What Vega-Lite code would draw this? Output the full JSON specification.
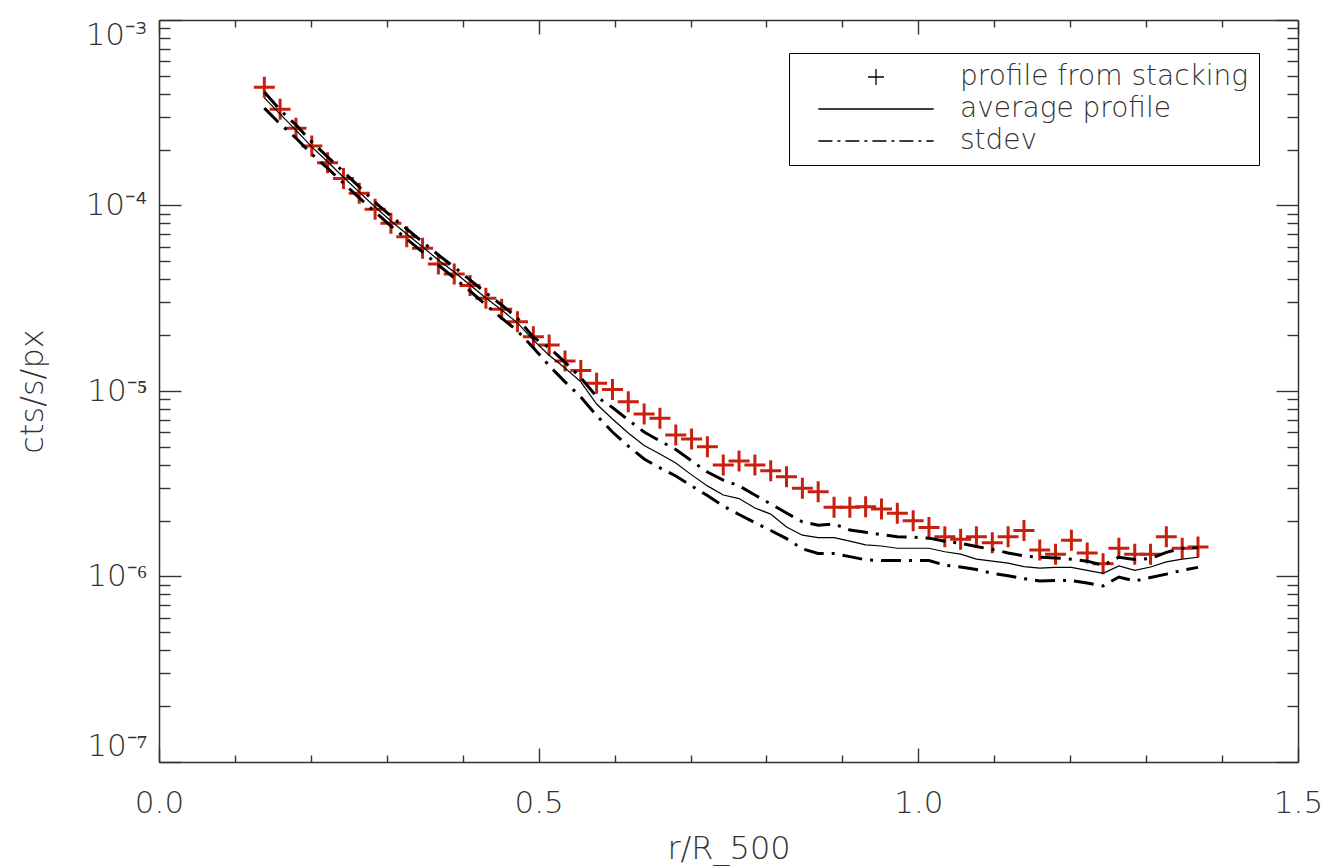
{
  "$schema": "https://vega.github.io/schema/vega-lite/v6.json",
  "width": 1139,
  "height": 742,
  "autosize": {"type": "none"},
  "padding": {"left": 159, "top": 20, "right": 31, "bottom": 104},
  "background": "white",
  "data": {"values": [
    {"r":0.1387,"stack":4.34e-4,"avg":3.80e-4,"up":4.09e-4,"lo":3.35e-4},
    {"r":0.1595,"stack":3.30e-4,"avg":3.11e-4,"up":3.27e-4,"lo":2.75e-4},
    {"r":0.1804,"stack":2.61e-4,"avg":2.55e-4,"up":2.72e-4,"lo":2.31e-4},
    {"r":0.2012,"stack":2.09e-4,"avg":2.07e-4,"up":2.20e-4,"lo":1.89e-4},
    {"r":0.2220,"stack":1.70e-4,"avg":1.72e-4,"up":1.83e-4,"lo":1.59e-4},
    {"r":0.2429,"stack":1.40e-4,"avg":1.42e-4,"up":1.52e-4,"lo":1.32e-4},
    {"r":0.2637,"stack":1.163e-4,"avg":1.18e-4,"up":1.26e-4,"lo":1.10e-4},
    {"r":0.2846,"stack":9.54e-5,"avg":9.81e-5,"up":1.04e-4,"lo":9.23e-5},
    {"r":0.3054,"stack":8.02e-5,"avg":8.25e-5,"up":8.78e-5,"lo":7.75e-5},
    {"r":0.3263,"stack":6.79e-5,"avg":7.02e-5,"up":7.47e-5,"lo":6.60e-5},
    {"r":0.3471,"stack":5.88e-5,"avg":5.97e-5,"up":6.36e-5,"lo":5.61e-5},
    {"r":0.3679,"stack":4.84e-5,"avg":5.09e-5,"up":5.41e-5,"lo":4.78e-5},
    {"r":0.3888,"stack":4.27e-5,"avg":4.38e-5,"up":4.66e-5,"lo":4.07e-5},
    {"r":0.4096,"stack":3.70e-5,"avg":3.73e-5,"up":3.97e-5,"lo":3.46e-5},
    {"r":0.4305,"stack":3.16e-5,"avg":3.17e-5,"up":3.38e-5,"lo":2.91e-5},
    {"r":0.4513,"stack":2.76e-5,"avg":2.73e-5,"up":2.91e-5,"lo":2.47e-5},
    {"r":0.4721,"stack":2.36e-5,"avg":2.33e-5,"up":2.47e-5,"lo":2.11e-5},
    {"r":0.4930,"stack":1.96e-5,"avg":1.88e-5,"up":1.95e-5,"lo":1.71e-5},
    {"r":0.5138,"stack":1.77e-5,"avg":1.56e-5,"up":1.71e-5,"lo":1.37e-5},
    {"r":0.5347,"stack":1.45e-5,"avg":1.33e-5,"up":1.43e-5,"lo":1.12e-5},
    {"r":0.5555,"stack":1.29e-5,"avg":1.12e-5,"up":1.18e-5,"lo":9.28e-6},
    {"r":0.5763,"stack":1.10e-5,"avg":8.51e-6,"up":9.32e-6,"lo":7.38e-6},
    {"r":0.5972,"stack":1.02e-5,"avg":7.07e-6,"up":8.15e-6,"lo":6.01e-6},
    {"r":0.6180,"stack":8.76e-6,"avg":5.94e-6,"up":6.98e-6,"lo":5.05e-6},
    {"r":0.6389,"stack":7.52e-6,"avg":5.09e-6,"up":6.01e-6,"lo":4.30e-6},
    {"r":0.6597,"stack":7.13e-6,"avg":4.58e-6,"up":5.38e-6,"lo":3.85e-6},
    {"r":0.6806,"stack":5.79e-6,"avg":4.09e-6,"up":4.84e-6,"lo":3.48e-6},
    {"r":0.7014,"stack":5.51e-6,"avg":3.53e-6,"up":4.20e-6,"lo":3.08e-6},
    {"r":0.7222,"stack":5.01e-6,"avg":3.08e-6,"up":3.66e-6,"lo":2.73e-6},
    {"r":0.7431,"stack":3.99e-6,"avg":2.75e-6,"up":3.31e-6,"lo":2.40e-6},
    {"r":0.7639,"stack":4.20e-6,"avg":2.63e-6,"up":3.08e-6,"lo":2.16e-6},
    {"r":0.7848,"stack":3.99e-6,"avg":2.34e-6,"up":2.75e-6,"lo":1.95e-6},
    {"r":0.8056,"stack":3.72e-6,"avg":2.17e-6,"up":2.46e-6,"lo":1.77e-6},
    {"r":0.8264,"stack":3.45e-6,"avg":1.85e-6,"up":2.20e-6,"lo":1.60e-6},
    {"r":0.8473,"stack":2.99e-6,"avg":1.67e-6,"up":1.97e-6,"lo":1.41e-6},
    {"r":0.8681,"stack":2.86e-6,"avg":1.62e-6,"up":1.89e-6,"lo":1.33e-6},
    {"r":0.8890,"stack":2.36e-6,"avg":1.62e-6,"up":1.92e-6,"lo":1.33e-6},
    {"r":0.9098,"stack":2.36e-6,"avg":1.55e-6,"up":1.78e-6,"lo":1.28e-6},
    {"r":0.9306,"stack":2.38e-6,"avg":1.48e-6,"up":1.73e-6,"lo":1.23e-6},
    {"r":0.9515,"stack":2.31e-6,"avg":1.46e-6,"up":1.68e-6,"lo":1.22e-6},
    {"r":0.9723,"stack":2.19e-6,"avg":1.42e-6,"up":1.64e-6,"lo":1.22e-6},
    {"r":0.9932,"stack":2.00e-6,"avg":1.42e-6,"up":1.63e-6,"lo":1.22e-6},
    {"r":1.0140,"stack":1.84e-6,"avg":1.42e-6,"up":1.61e-6,"lo":1.22e-6},
    {"r":1.0349,"stack":1.64e-6,"avg":1.36e-6,"up":1.55e-6,"lo":1.15e-6},
    {"r":1.0557,"stack":1.59e-6,"avg":1.32e-6,"up":1.51e-6,"lo":1.125e-6},
    {"r":1.0765,"stack":1.64e-6,"avg":1.24e-6,"up":1.45e-6,"lo":1.09e-6},
    {"r":1.0974,"stack":1.52e-6,"avg":1.21e-6,"up":1.40e-6,"lo":1.04e-6},
    {"r":1.1182,"stack":1.64e-6,"avg":1.18e-6,"up":1.34e-6,"lo":1.01e-6},
    {"r":1.1391,"stack":1.77e-6,"avg":1.13e-6,"up":1.29e-6,"lo":9.74e-7},
    {"r":1.1599,"stack":1.39e-6,"avg":1.11e-6,"up":1.27e-6,"lo":9.46e-7},
    {"r":1.1807,"stack":1.32e-6,"avg":1.12e-6,"up":1.26e-6,"lo":9.51e-7},
    {"r":1.2016,"stack":1.57e-6,"avg":1.12e-6,"up":1.24e-6,"lo":9.51e-7},
    {"r":1.2224,"stack":1.34e-6,"avg":1.08e-6,"up":1.21e-6,"lo":9.23e-7},
    {"r":1.2433,"stack":1.17e-6,"avg":1.04e-6,"up":1.15e-6,"lo":8.89e-7},
    {"r":1.2641,"stack":1.42e-6,"avg":1.14e-6,"up":1.27e-6,"lo":9.94e-7},
    {"r":1.2850,"stack":1.32e-6,"avg":1.08e-6,"up":1.235e-6,"lo":9.46e-7},
    {"r":1.3058,"stack":1.32e-6,"avg":1.125e-6,"up":1.25e-6,"lo":9.88e-7},
    {"r":1.3266,"stack":1.64e-6,"avg":1.20e-6,"up":1.35e-6,"lo":1.03e-6},
    {"r":1.3475,"stack":1.42e-6,"avg":1.24e-6,"up":1.42e-6,"lo":1.08e-6},
    {"r":1.3683,"stack":1.44e-6,"avg":1.27e-6,"up":1.43e-6,"lo":1.12e-6}
  ]},
  "layer": [
    {
      "mark": {"type": "point", "filled": false, "color": "#c8200e", "strokeWidth": 3, "size": 441, "opacity": 1},
      "encoding": {
        "x": {"field": "r", "type": "quantitative", "scale": {"domain": [0, 1.5], "nice": false, "zero": false},
          "axis": {"orient": "bottom",
            "values": [0,0.1,0.2,0.3,0.4,0.5,0.6,0.7,0.8,0.9,1.0,1.1,1.2,1.3,1.4,1.5],
            "labelExpr": "abs(datum.value*2-round(datum.value*2))<0.001 ? format(datum.value,'.1f') : ''",
            "tickSize": {"condition": {"test": "abs(datum.value*2-round(datum.value*2))<0.001", "value": -14}, "value": -7},
            "labelPadding": 40, "labelFlush": false, "labelOverlap": false, "labelBound": false, "labelAngle": 0,
            "title": "r/R_500", "titleY": 96, "titleBaseline": "alphabetic", "titleFontSize": 32}},
        "y": {"field": "stack", "type": "quantitative", "scale": {"type": "log", "domain": [1e-7, 1e-3], "nice": false},
          "axis": {"orient": "left",
            "values": [1e-7,2e-7,3e-7,4e-7,5e-7,6e-7,7e-7,8e-7,9e-7,1e-6,2e-6,3e-6,4e-6,5e-6,6e-6,7e-6,8e-6,9e-6,1e-5,2e-5,3e-5,4e-5,5e-5,6e-5,7e-5,8e-5,9e-5,1e-4,2e-4,3e-4,4e-4,5e-4,6e-4,7e-4,8e-4,9e-4,1e-3],
            "labelExpr": "abs(log(datum.value)/LN10-round(log(datum.value)/LN10))<0.001 ? '10⁻' + ['⁰','¹','²','³','⁴','⁵','⁶','⁷','⁸','⁹'][-round(log(datum.value)/LN10)] : ''",
            "tickSize": {"condition": {"test": "abs(log(datum.value)/LN10-round(log(datum.value)/LN10))<0.001", "value": -22}, "value": -11},
            "labelPadding": 34, "labelFlush": true, "labelFlushOffset": 0, "labelOverlap": false, "labelBound": false,
            "title": "cts/s/px", "titleX": -117, "titleY": 371, "titleBaseline": "alphabetic", "titleAngle": 270, "titleFontSize": 32}},
        "shape": {"datum": "profile from stacking", "type": "nominal",
          "scale": {"domain": ["profile from stacking", "average profile", "stdev"],
            "range": ["M-1,0H1M0,-1V1", "M-7.2,0H7.2",
              "M-7.2,0H-5.45M-4.825,0H-4.45M-3.825,0H-2.075M-1.45,0H-1.075M-0.45,0H1.3M1.925,0H2.3M2.925,0H4.675M5.3,0H5.675M6.3,0H7.2"]},
          "legend": {"orient": "none", "legendX": 630, "legendY": 33, "title": null,
            "strokeColor": "black", "padding": 10, "symbolOffset": 63, "labelOffset": 70, "rowPadding": 4,
            "labelFont": "DejaVu Sans", "labelFontSize": 28, "labelFontWeight": 200, "labelColor": "#333", "labelLimit": 500,
            "symbolSize": 256, "symbolStrokeColor": "black", "symbolStrokeWidth": 1.3, "symbolFillColor": "transparent",
            "encode": {"symbols": {"update": {
              "stroke": {"value": "black"}, "strokeWidth": {"value": 1.3}, "fill": {"value": "transparent"},
              "size": {"value": 256}, "opacity": {"value": 1}}}}}}
      }
    },
    {
      "mark": {"type": "line", "color": "black", "strokeWidth": 1.2},
      "encoding": {
        "x": {"field": "r", "type": "quantitative", "scale": {"domain": [0, 1.5], "nice": false, "zero": false}, "axis": null},
        "y": {"field": "avg", "type": "quantitative", "scale": {"type": "log", "domain": [1e-7, 1e-3], "nice": false}, "axis": null}
      }
    },
    {
      "mark": {"type": "line", "color": "black", "strokeWidth": 3, "strokeDash": [20, 8, 3, 8]},
      "encoding": {
        "x": {"field": "r", "type": "quantitative", "scale": {"domain": [0, 1.5], "nice": false, "zero": false}, "axis": null},
        "y": {"field": "up", "type": "quantitative", "scale": {"type": "log", "domain": [1e-7, 1e-3], "nice": false}, "axis": null}
      }
    },
    {
      "mark": {"type": "line", "color": "black", "strokeWidth": 3, "strokeDash": [20, 8, 3, 8]},
      "encoding": {
        "x": {"field": "r", "type": "quantitative", "scale": {"domain": [0, 1.5], "nice": false, "zero": false}, "axis": null},
        "y": {"field": "lo", "type": "quantitative", "scale": {"type": "log", "domain": [1e-7, 1e-3], "nice": false}, "axis": null}
      }
    },
    {
      "mark": {"type": "point", "opacity": 0},
      "encoding": {
        "x": {"field": "r", "type": "quantitative", "scale": {"domain": [0, 1.5], "nice": false, "zero": false},
          "axis": {"orient": "top", "values": [0,0.1,0.2,0.3,0.4,0.5,0.6,0.7,0.8,0.9,1.0,1.1,1.2,1.3,1.4,1.5], "labels": false, "title": null,
            "tickSize": {"condition": {"test": "abs(datum.value*2-round(datum.value*2))<0.001", "value": -14}, "value": -7}}},
        "y": {"field": "stack", "type": "quantitative", "scale": {"type": "log", "domain": [1e-7, 1e-3], "nice": false},
          "axis": {"orient": "right", "labels": false, "title": null,
            "values": [1e-7,2e-7,3e-7,4e-7,5e-7,6e-7,7e-7,8e-7,9e-7,1e-6,2e-6,3e-6,4e-6,5e-6,6e-6,7e-6,8e-6,9e-6,1e-5,2e-5,3e-5,4e-5,5e-5,6e-5,7e-5,8e-5,9e-5,1e-4,2e-4,3e-4,4e-4,5e-4,6e-4,7e-4,8e-4,9e-4,1e-3],
            "tickSize": {"condition": {"test": "abs(log(datum.value)/LN10-round(log(datum.value)/LN10))<0.001", "value": -22}, "value": -11}}}
      }
    }
  ],
  "resolve": {"axis": {"x": "independent", "y": "independent"}},
  "config": {
    "font": "DejaVu Sans",
    "view": {"stroke": null},
    "axis": {"grid": false, "domainColor": "#333", "domainWidth": 1.5, "tickColor": "#333", "tickWidth": 1.4,
      "labelFont": "DejaVu Sans", "labelFontSize": 31, "labelFontWeight": 200, "labelColor": "#333",
      "titleFont": "DejaVu Sans", "titleFontWeight": 200, "titleColor": "#333"}
  }
}
